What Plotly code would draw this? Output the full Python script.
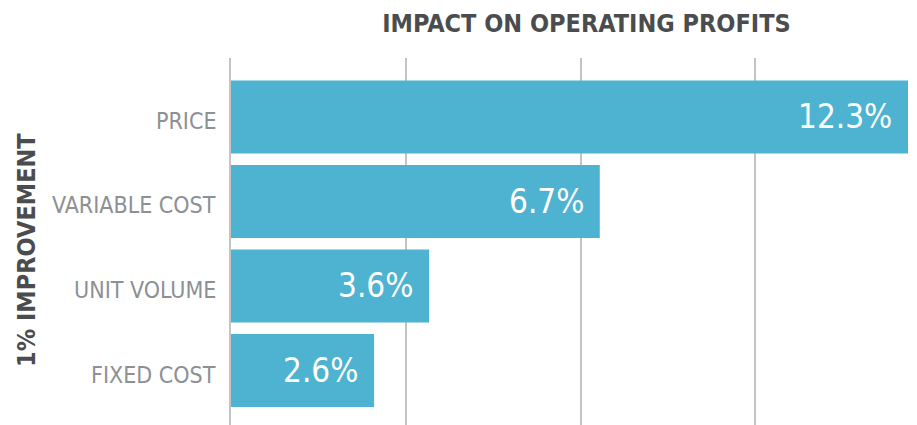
import plotly.graph_objects as go

categories = ["PRICE", "VARIABLE COST", "UNIT VOLUME", "FIXED COST"]
values = [12.3, 6.7, 3.6, 2.6]
labels = ["12.3%", "6.7%", "3.6%", "2.6%"]
grid_ticks = [0, 3.175, 6.35, 9.525, 12.7]

FONT = "DejaVu Sans Condensed, Liberation Sans Narrow, sans-serif"
BAR = "#4db3d0"
GRID = "#c3c4c8"

fig = go.Figure(go.Bar(
    y=categories, x=values, orientation="h",
    marker=dict(color=BAR, line=dict(width=0)),
    width=0.864,
    hoverinfo="skip",
))

annotations = [dict(text="<b>1% IMPROVEMENT</b>", xref="paper", yref="paper",
                    x=(27-231)/677, y=(425-250)/367, xanchor="center", yanchor="middle",
                    textangle=-90, showarrow=False,
                    font=dict(family=FONT, size=25, color="#4b4c4e"))]
for c, v, t in zip(categories, values, labels):
    annotations.append(dict(text=t, x=v, y=c, xref="x", yref="y", xanchor="right",
                            yanchor="middle", xshift=-14, showarrow=False,
                            font=dict(family=FONT, size=33, color="white")))
    annotations.append(dict(text=c, x=0, y=c, xref="paper", yref="y", xanchor="right",
                            yanchor="middle", xshift=-13, yshift=-4, showarrow=False,
                            font=dict(family=FONT, size=23, color="#8d9094")))

fig.update_layout(
    width=917, height=425,
    margin=dict(l=231, r=9, t=58, b=0),
    plot_bgcolor="white", paper_bgcolor="white",
    showlegend=False,
    title=dict(text="<b>IMPACT ON OPERATING PROFITS</b>", x=586.5/917, xanchor="center",
               y=1-23/425, yanchor="middle", xref="container", yref="container",
               font=dict(family=FONT, size=25, color="#4b4c4e")),
    xaxis=dict(range=[0, 12.3], tickvals=grid_ticks, showticklabels=False,
               showgrid=True, gridcolor=GRID, gridwidth=2, zeroline=False,
               showline=False),
    yaxis=dict(range=[3.645, -0.698], showgrid=False, zeroline=False,
               showline=True, linecolor=GRID, linewidth=2,
               ticks="", showticklabels=False),
    annotations=annotations,
)

fig.write_html("out.html")
